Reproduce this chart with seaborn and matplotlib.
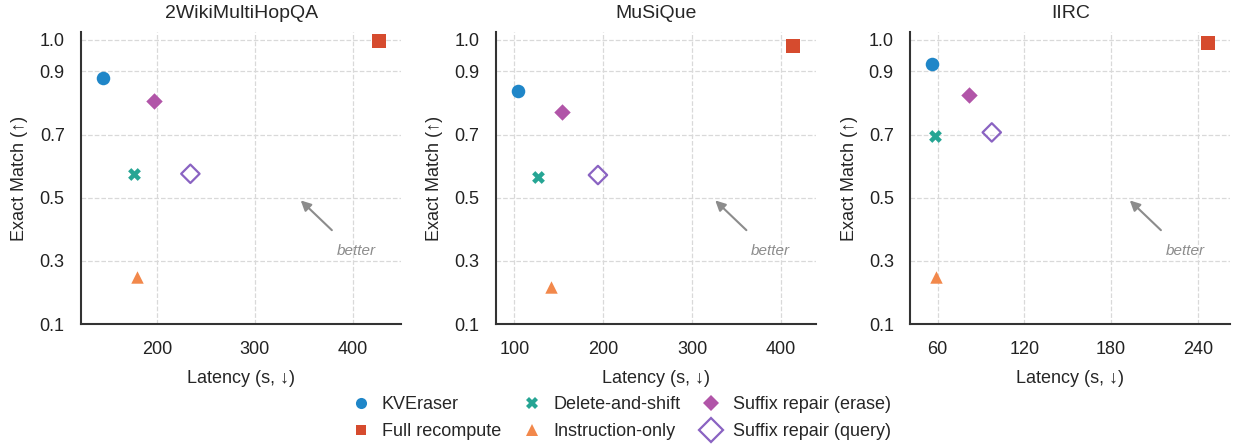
import matplotlib
matplotlib.use("Agg")
import matplotlib.pyplot as plt
from matplotlib.lines import Line2D
import seaborn as sns
import pandas as pd

# values
datasets = ["2WikiMultiHopQA", "MuSiQue", "IIRC"]
methods = ["KVEraser", "Full recompute", "Delete-and-shift", "Instruction-only",
           "Suffix repair (erase)", "Suffix repair (query)"]

latency_2wiki = [145, 427, 176, 179, 197, 234]
em_2wiki = [0.878, 0.997, 0.576, 0.250, 0.808, 0.576]

latency_musique = [104, 414, 127, 141, 154, 194]
em_musique = [0.837, 0.982, 0.566, 0.218, 0.773, 0.572]

latency_iirc = [56.5, 247, 58, 59, 81.5, 97.5]
em_iirc = [0.922, 0.991, 0.696, 0.250, 0.826, 0.707]

x_ticks = [[200, 300, 400], [100, 200, 300, 400], [60, 120, 180, 240]]
y_ticks = [0.1, 0.3, 0.5, 0.7, 0.9, 1.0]

colors = ["#1f86c8", "#d64b2e", "#26a594", "#f2884b", "#b155a8", "#8a63c2"]
markers = ["o", "s", "X", "^", "D", "D"]
sizes = [95, 90, 85, 80, 70, 88]
hollow = [False, False, False, False, False, True]

rows = []
for name, lat, em in [(datasets[0], latency_2wiki, em_2wiki),
                      (datasets[1], latency_musique, em_musique),
                      (datasets[2], latency_iirc, em_iirc)]:
    for m, x, y in zip(methods, lat, em):
        rows.append({"dataset": name, "method": m, "latency": x, "em": y})
df = pd.DataFrame(rows)

sns.set_style("whitegrid", {"grid.linestyle": "--", "grid.color": "#d9d9d9"})
plt.rcParams["font.family"] = ["Liberation Sans", "DejaVu Sans"]

fig, axes = plt.subplots(1, 3, figsize=(12.33, 4.44), dpi=100)
plt.subplots_adjust(left=0.066, right=0.9976, bottom=0.27, top=0.928, wspace=0.297)

for i, (ax, name) in enumerate(zip(axes, datasets)):
    sub = df[df["dataset"] == name]
    for j, m in enumerate(methods):
        pt = sub[sub["method"] == m]
        if hollow[j]:
            sns.scatterplot(data=pt, x="latency", y="em", ax=ax, marker=markers[j], s=sizes[j],
                            facecolors="none", edgecolor=colors[j], linewidth=1.6, zorder=3)
        else:
            sns.scatterplot(data=pt, x="latency", y="em", ax=ax, marker=markers[j], s=sizes[j],
                            color=colors[j], linewidth=0, zorder=3)
    lo, hi = sub["latency"].min(), sub["latency"].max()
    pad = (hi - lo) * 0.08
    ax.set_xlim(lo - pad, hi + pad)
    ax.set_ylim(0.1, 1.025)
    ax.set_xticks(x_ticks[i])
    ax.set_yticks(y_ticks)
    ax.set_yticklabels([f"{v:.1f}" for v in y_ticks])
    ax.tick_params(length=0, pad=12, labelsize=13, colors="#222222")
    ax.grid(True, linestyle="--", color="#d9d9d9", linewidth=0.9)
    sns.despine(ax=ax)
    for side in ["left", "bottom"]:
        ax.spines[side].set_color("#333333")
        ax.spines[side].set_linewidth(1.5)
    ax.set_title(name, fontsize=14, pad=10)
    ax.set_xlabel("Latency (s, ↓)", fontsize=13, labelpad=9)
    ax.set_ylabel("Exact Match (↑)", fontsize=13, labelpad=8)
    ax.annotate("", xy=(0.68, 0.43), xytext=(0.79, 0.315), xycoords="axes fraction",
                arrowprops=dict(arrowstyle="-|>", color="#8c8c8c", lw=1.5, mutation_scale=15))
    ax.text(0.86, 0.25, "better", transform=ax.transAxes, ha="center", va="center",
            style="italic", color="#8c8c8c", fontsize=11)

handles = []
for j, m in enumerate(methods):
    ms = {"o": 8, "s": 7.5, "X": 8, "^": 8, "D": 8.5}[markers[j]]
    if hollow[j]:
        h = Line2D([], [], linestyle="", marker="D", markersize=12, markerfacecolor="none",
                   markeredgecolor=colors[j], markeredgewidth=1.6, label=m)
    else:
        h = Line2D([], [], linestyle="", marker=markers[j], markersize=ms, color=colors[j],
                   markeredgewidth=0, label=m)
    handles.append(h)

fig.legend(handles=handles, loc="lower center", ncol=3, frameon=False, fontsize=13,
           bbox_to_anchor=(0.503, -0.028), handlelength=1.2, handletextpad=0.57,
           columnspacing=1.12, labelspacing=0.55)

fig.savefig("out.png", dpi=100)
